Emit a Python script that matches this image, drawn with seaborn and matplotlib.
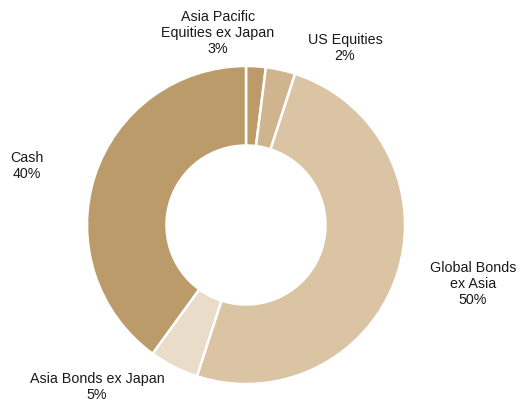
import matplotlib
matplotlib.use("Agg")
import matplotlib.pyplot as plt
import seaborn as sns

# Portfolio allocation, clockwise from 12 o'clock
categories = ["US Equities", "Asia Pacific\nEquities ex Japan", "Global Bonds\nex Asia",
              "Asia Bonds ex Japan", "Cash"]
weights = [2, 3, 50, 5, 40]
colors = ["#bc9b6a", "#d0b48e", "#dbc4a3", "#e9dcc8", "#bc9b6a"]

# label anchor points (pixels in the saved image), same order as categories
label_px = [(345, 48), (218, 33), (473, 284), (97, 387), (27, 166)]

sns.set_theme(style="white")
plt.rcParams["font.family"] = ["Liberation Sans", "DejaVu Sans"]

W, H, DPI = 527, 405, 100
fig = plt.figure(figsize=(W / DPI, H / DPI), dpi=DPI)
cx, cy, r = 246, 225, 159
ax = fig.add_axes([(cx - r) / W, (H - cy - r) / H, 2 * r / W, 2 * r / H])

ax.pie(weights, colors=colors, startangle=90, counterclock=False, radius=1,
       wedgeprops=dict(width=0.5, edgecolor="white", linewidth=1.8))
ax.set_xlim(-1, 1)
ax.set_ylim(-1, 1)
ax.set_aspect("equal")
ax.axis("off")

for name, w, (px, py) in zip(categories, weights, label_px):
    ax.text((px - cx) / r, (cy - py) / r, f"{name}\n{w}%", ha="center", va="center",
            fontsize=10.3, color="#1a1a1a", linespacing=1.2, clip_on=False)

fig.savefig("out.png", dpi=DPI, facecolor="white")
